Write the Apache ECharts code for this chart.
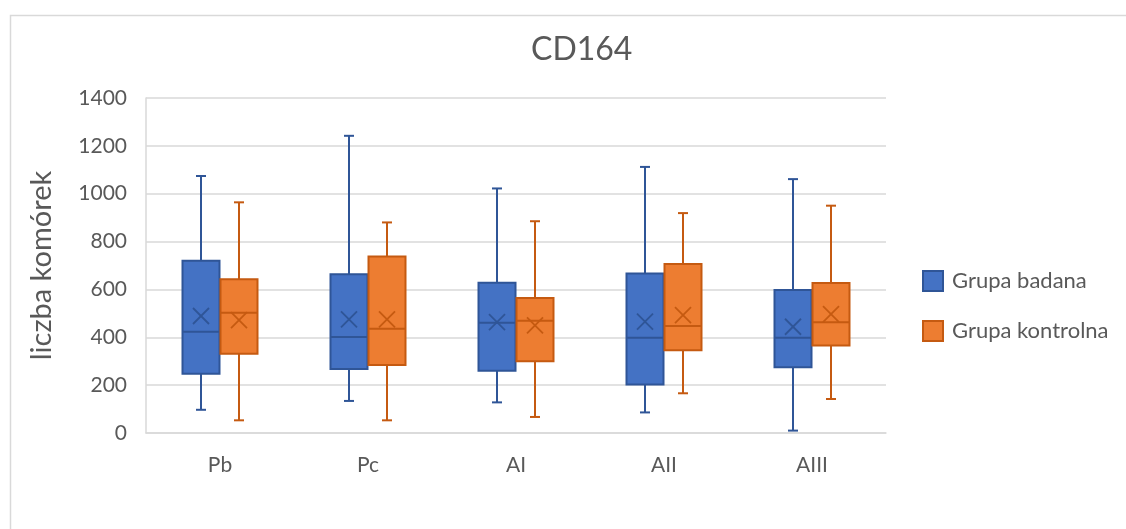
<!DOCTYPE html>
<html>
<head>
<meta charset="utf-8">
<script src="https://cdn.jsdelivr.net/npm/echarts@6/dist/echarts.min.js"></script>
<style>
  html, body { margin: 0; padding: 0; background: #ffffff; }
  #chart { width: 1126px; height: 529px; }
</style>
</head>
<body>
<div id="chart"></div>
<script>
// Categories on the x axis
const categories = ['Pb', 'Pc', 'AI', 'AII', 'AIII'];

// Box statistics per category: [min, Q1, median, Q3, max]
const badanaStats = [
  [97, 248, 423, 720, 1074],
  [134, 267, 401, 663, 1242],
  [128, 260, 461, 628, 1022],
  [86, 203, 398, 667, 1112],
  [10, 275, 398, 598, 1061]
];
const badanaMean = [489, 475, 463, 465, 444];

const kontrolnaStats = [
  [53, 331, 503, 643, 964],
  [53, 284, 436, 738, 880],
  [67, 300, 469, 564, 885],
  [166, 346, 447, 706, 919],
  [142, 366, 463, 627, 950]
];
const kontrolnaMean = [472, 475, 450, 493, 497];

// Y axis ticks
const yTicks = [0, 200, 400, 600, 800, 1000, 1200, 1400];

const FONT = 'Lato, "Open Sans", sans-serif';
const TEXT = '#595959';
const GRID = '#d9d9d9';

function rows(stats, means) {
  return stats.map((s, i) => [i, s[0], s[1], s[2], s[3], s[4], means[i]]);
}

// Draws one box-and-whisker with its mean marker; side = -1 (left) or +1 (right)
function boxRenderer(side, fill, stroke) {
  return function (params, api) {
    const cat = api.value(0);
    const band = api.size([1, 0])[0];
    const boxW = band * 0.25;
    const cx = api.coord([cat, 0])[0] + side * (boxW / 2 + 0.5);
    const y = (k) => api.coord([cat, api.value(k)])[1];
    const yMin = y(1), yQ1 = y(2), yMed = y(3), yQ3 = y(4), yMax = y(5), yMean = y(6);
    const cap = 5;
    const xs = 8;
    const ln = (x1, y1, x2, y2, w) => ({
      type: 'line',
      shape: { x1, y1, x2, y2 },
      style: { stroke, lineWidth: w || 2 }
    });
    return {
      type: 'group',
      children: [
        ln(cx, yMax, cx, yQ3),
        ln(cx, yQ1, cx, yMin),
        ln(cx - cap, yMax, cx + cap, yMax),
        ln(cx - cap, yMin, cx + cap, yMin),
        {
          type: 'rect',
          shape: { x: cx - boxW / 2, y: yQ3, width: boxW, height: yQ1 - yQ3 },
          style: { fill, stroke, lineWidth: 2 }
        },
        ln(cx - boxW / 2, yMed, cx + boxW / 2, yMed),
        ln(cx - xs, yMean - xs, cx + xs, yMean + xs, 1.8),
        ln(cx - xs, yMean + xs, cx + xs, yMean - xs, 1.8)
      ]
    };
  };
}

const chart = echarts.init(document.getElementById('chart'), null, { renderer: 'canvas' });

chart.setOption({
  backgroundColor: '#ffffff',
  animation: false,
  textStyle: { fontFamily: FONT },
  graphic: [{
    type: 'rect',
    left: 8, top: 13,
    shape: { width: 1130, height: 530 },
    style: { fill: 'none', stroke: GRID, lineWidth: 1.5 },
    z: -1
  }],
  title: {
    text: 'CD164',
    left: 526,
    top: 29,
    textStyle: { fontFamily: FONT, fontSize: 32, fontWeight: 'normal', color: TEXT }
  },
  legend: {
    orient: 'vertical',
    left: 922,
    top: 270,
    padding: 0,
    itemWidth: 20,
    itemHeight: 20,
    itemGap: 28,
    icon: 'rect',
    textStyle: { fontFamily: FONT, fontSize: 22, color: TEXT, padding: [0, 0, 0, 4] },
    data: ['Grupa badana', 'Grupa kontrolna']
  },
  grid: { left: 146, right: 240, top: 98, bottom: 96, containLabel: false },
  xAxis: {
    type: 'category',
    data: categories,
    axisLine: { show: true, lineStyle: { color: GRID, width: 1.5 } },
    axisTick: { show: false },
    axisLabel: { color: TEXT, fontSize: 21, fontFamily: FONT, margin: 22 },
    splitLine: { show: false }
  },
  yAxis: {
    type: 'value',
    min: yTicks[0],
    max: yTicks[yTicks.length - 1],
    interval: 200,
    name: 'liczba komórek',
    nameLocation: 'middle',
    nameRotate: 90,
    nameGap: 90,
    nameTextStyle: { color: TEXT, fontSize: 29, fontFamily: FONT },
    axisLine: { show: true, lineStyle: { color: GRID, width: 1.5 } },
    axisTick: { show: false },
    axisLabel: {
      color: TEXT, fontSize: 21, fontFamily: FONT, margin: 19,
      formatter: (v) => String(v)
    },
    splitLine: { show: true, lineStyle: { color: GRID, width: 1.5 } }
  },
  series: [
    {
      name: 'Grupa badana',
      type: 'custom',
      renderItem: boxRenderer(-1, '#4472C4', '#2F5597'),
      itemStyle: { color: '#4472C4', borderColor: '#2F5597', borderWidth: 1.5 },
      encode: { x: 0, y: [1, 2, 3, 4, 5, 6] },
      data: rows(badanaStats, badanaMean)
    },
    {
      name: 'Grupa kontrolna',
      type: 'custom',
      renderItem: boxRenderer(1, '#ED7D31', '#C55A11'),
      itemStyle: { color: '#ED7D31', borderColor: '#C55A11', borderWidth: 1.5 },
      encode: { x: 0, y: [1, 2, 3, 4, 5, 6] },
      data: rows(kontrolnaStats, kontrolnaMean)
    }
  ]
});
</script>
</body>
</html>
